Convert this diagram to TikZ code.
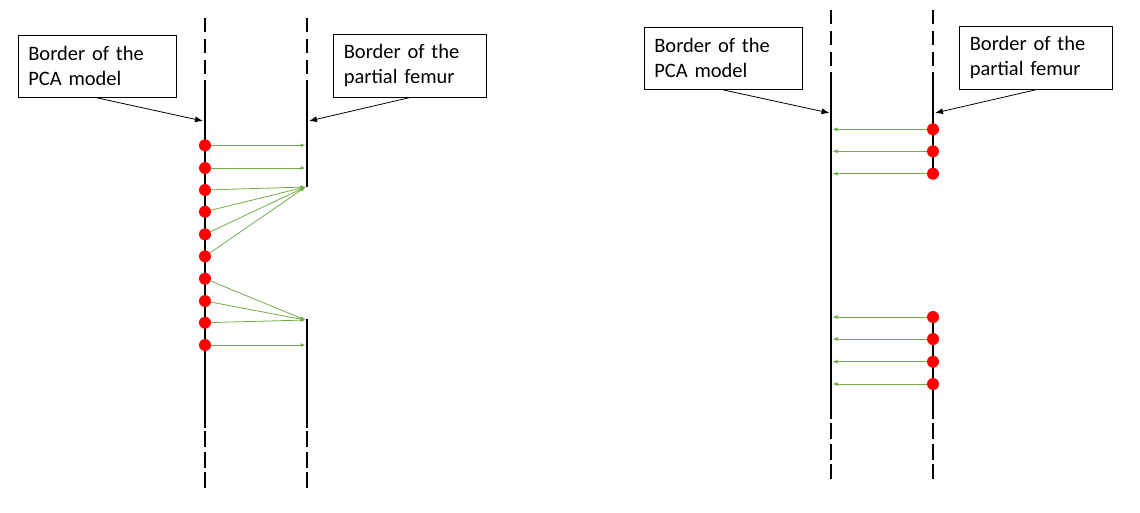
\documentclass[tikz,border=0pt]{standalone}
\usepackage{fontspec}
\setmainfont{Carlito}
\usetikzlibrary{arrows.meta, positioning}
\definecolor{fitgreen}{HTML}{70AD47}

\begin{document}
\begin{tikzpicture}[
    x=1pt, y=-1pt,
    font=\fontsize{20.5}{25}\selectfont,
    border/.style={line width=2.8pt},
    borderdash/.style={line width=2.8pt, dash pattern=on 14pt off 7pt},
    enddash/.style={line width=2.8pt, dash pattern=on 16pt off 4.5pt},
    callout/.style={rectangle, draw, line width=0.8pt, align=left, text width=133pt, inner xsep=10pt, inner ysep=2pt, minimum height=62.5pt},
    pnt/.style={circle, fill=red, minimum size=12pt, inner sep=0pt},
    arr/.style={-{Latex[length=8pt, width=6pt]}, line width=0.8pt},
    fitarr/.style={-{Latex[length=5pt, width=4pt]}, line width=0.8pt, fitgreen},
]
\useasboundingbox (0,0) rectangle (1140,512);

% ============ Left: PCA model longer than the femur ============
\draw[borderdash] (205,18) -- (205,80);
\draw[border] (205,80) -- (205,428);
\draw[enddash] (205,431) -- (205,488);

\draw[borderdash] (307,18) -- (307,80);
\draw[border] (307,80) -- (307,187);
\draw[border] (307,319) -- (307,428);
\draw[enddash] (307,431) -- (307,488);

% Labels
\node[callout, text width=138.4pt] (pcaBoxA) at (97.5,66.3) {Border of the PCA model};
\node[callout] (femurBoxA) at (410.3,65.8) {Border of the partial femur};

\coordinate (pcaTipA) at (203,121);
\coordinate (femurTipA) at (309,121);
\draw[arr] (pcaBoxA.south) -- (pcaTipA);
\draw[arr] (femurBoxA.south) -- (femurTipA);

% Model points
\node[pnt] (pA1) at (205,145.3) {};
\node[pnt] (pA2) at (205,168) {};
\node[pnt] (pA3) at (205,190) {};
\node[pnt] (pA4) at (205,211.7) {};
\node[pnt] (pA5) at (205,234.3) {};
\node[pnt] (pA6) at (205,256.3) {};
\node[pnt] (pA7) at (205,278.7) {};
\node[pnt] (pA8) at (205,301) {};
\node[pnt] (pA9) at (205,322.7) {};
\node[pnt] (pA10) at (205,345) {};

% Closest femur points
\coordinate (tA1) at (305.5,145.3);
\coordinate (tA2) at (305.5,168);
\coordinate (tA3) at (305.5,187);
\coordinate (tA4) at (305.5,320);
\coordinate (tA5) at (305.5,345);

\draw[fitarr] (pA1) -- (tA1);
\draw[fitarr] (pA2) -- (tA2);
\draw[fitarr] (pA3) -- (tA3);
\draw[fitarr] (pA4) -- (tA3);
\draw[fitarr] (pA5) -- (tA3);
\draw[fitarr] (pA6) -- (tA3);
\draw[fitarr] (pA7) -- (tA4);
\draw[fitarr] (pA8) -- (tA4);
\draw[fitarr] (pA9) -- (tA4);
\draw[fitarr] (pA10) -- (tA5);

% ============ Right: femur points onto the PCA model ============
\draw[borderdash] (831,10) -- (831,72);
\draw[border] (831,72) -- (831,419);
\draw[enddash] (831,423) -- (831,479);

\draw[borderdash] (933,10) -- (933,72);
\draw[border] (933,72) -- (933,174);
\draw[border] (933,317) -- (933,419);
\draw[enddash] (933,423) -- (933,479);

% Labels
\node[callout, text width=138.4pt] (pcaBoxB) at (723.5,58.3) {Border of the PCA model};
\node[callout] (femurBoxB) at (1036.3,58) {Border of the partial femur};

\coordinate (pcaTipB) at (829.5,113);
\coordinate (femurTipB) at (935,113);
\draw[arr] (pcaBoxB.south) -- (pcaTipB);
\draw[arr] (femurBoxB.south) -- (femurTipB);

% Femur points
\node[pnt] (pB1) at (933,129.3) {};
\node[pnt] (pB2) at (933,151.3) {};
\node[pnt] (pB3) at (933,173.7) {};
\node[pnt] (pB4) at (933,317) {};
\node[pnt] (pB5) at (933,339) {};
\node[pnt] (pB6) at (933,361.7) {};
\node[pnt] (pB7) at (933,384) {};

% Closest model points
\coordinate (tB1) at (832.5,129.3);
\coordinate (tB2) at (832.5,151.3);
\coordinate (tB3) at (832.5,173.7);
\coordinate (tB4) at (832.5,317);
\coordinate (tB5) at (832.5,339);
\coordinate (tB6) at (832.5,361.7);
\coordinate (tB7) at (832.5,384);

\draw[fitarr] (pB1) -- (tB1);
\draw[fitarr] (pB2) -- (tB2);
\draw[fitarr] (pB3) -- (tB3);
\draw[fitarr] (pB4) -- (tB4);
\draw[fitarr] (pB5) -- (tB5);
\draw[fitarr] (pB6) -- (tB6);
\draw[fitarr] (pB7) -- (tB7);

\end{tikzpicture}
\end{document}
